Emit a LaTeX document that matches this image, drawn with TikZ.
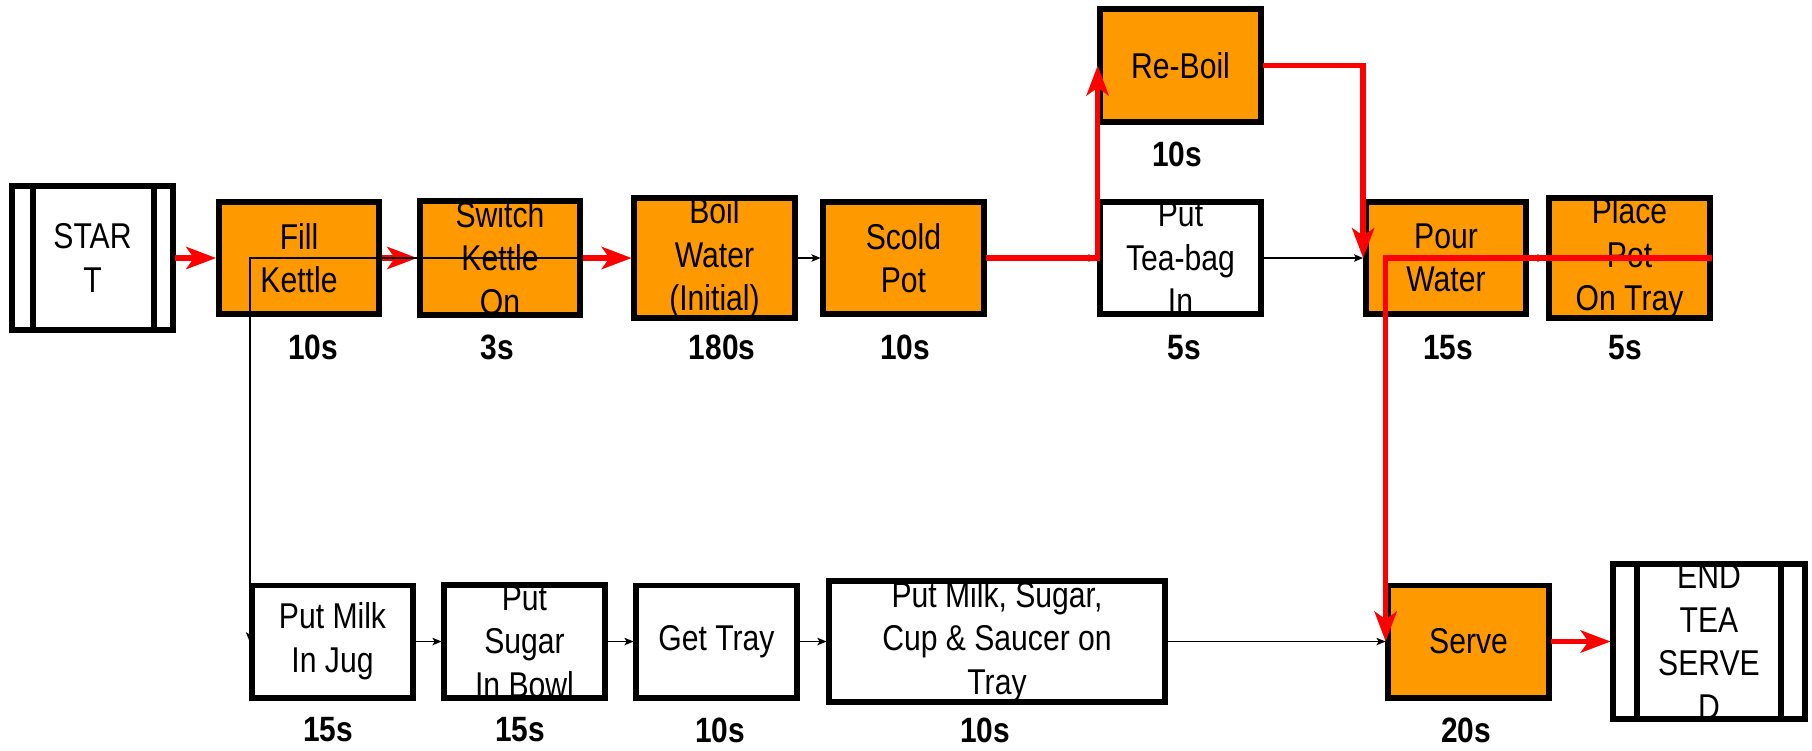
\documentclass[tikz,border=0pt]{standalone}
\usepackage{fontspec}
\setmainfont[FakeStretch=0.84]{Liberation Sans}
\newfontfamily\durfont[FakeStretch=0.85]{Liberation Sans}
\usetikzlibrary{arrows.meta}
\definecolor{steporange}{RGB}{255,153,0}
\definecolor{critred}{RGB}{255,0,0}
\begin{document}
\begin{tikzpicture}[x=0.01cm,y=-0.01cm,
  box/.style={rectangle, inner sep=0pt, outer sep=0.8pt, minimum width=1.60cm, minimum height=1.12cm, align=center, font=\fontsize{10.2}{12.4}\selectfont},
  orangebox/.style={box, fill=steporange},
  whitebox/.style={box, fill=white},
  border/.style={draw=black, line width=1.7pt},
  dur/.style={inner sep=0pt, font=\durfont\bfseries\fontsize{10}{12}\selectfont},
  crit/.style={draw=critred, line width=1.55pt, -{Stealth[length=8.5pt,width=6.3pt,inset=2.2pt]}},
  flow/.style={draw=black, line width=0.5pt, -{Stealth[length=2.6pt,width=2.1pt,inset=0.6pt]}},
]
\useasboundingbox (0,0) rectangle (1812,750);

% boxes (fill and text)
\node[whitebox, minimum height=1.44cm] (start) at (92.5,258) {STAR\\T};
\node[orangebox] (fill) at (299,258) {Fill\\Kettle};
\node[orangebox] (switch) at (500,258) {Switch\\Kettle\\On};
\node[orangebox] (boil) at (714.5,258) {Boil\\Water\\(Initial)};
\node[orangebox] (scold) at (903.5,258) {Scold\\Pot};
\node[orangebox] (reboil) at (1180.5,65.5) {Re-Boil};
\node[whitebox] (teabag) at (1180.5,258) {Put\\Tea-bag\\In};
\node[orangebox] (pour) at (1446,258) {Pour\\Water};
\node[orangebox] (place) at (1629.5,258) {Place\\Pot\\On Tray};
\node[whitebox] (milk) at (332.5,641.5) {Put Milk\\In Jug};
\node[whitebox] (sugar) at (524.5,641.5) {Put\\Sugar\\In Bowl};
\node[whitebox] (tray) at (716.5,641.5) {Get Tray};
\node[whitebox, minimum width=3.35cm] (load) at (997,641.5) {Put Milk, Sugar,\\Cup \& Saucer on\\Tray};
\node[orangebox] (serve) at (1468.5,641.5) {Serve};
\node[whitebox, minimum width=1.91cm, minimum height=1.43cm] (end) at (1709,641.5) {END\\TEA\\SERVE\\D};

% borders drawn over the text
\foreach \n in {start,fill,switch,boil,scold,reboil,teabag,pour,place,milk,sugar,tray,load,serve,end}
  \draw[border] ([shift={(0.8pt,-0.8pt)}]\n.north west) rectangle ([shift={(-0.8pt,0.8pt)}]\n.south east);
\draw[border] ([xshift=0.233cm]start.north west) -- ([xshift=0.233cm]start.south west);
\draw[border] ([xshift=-0.217cm]start.north east) -- ([xshift=-0.217cm]start.south east);
\draw[border] ([xshift=0.26cm]end.north west) -- ([xshift=0.26cm]end.south west);
\draw[border] ([xshift=-0.26cm]end.north east) -- ([xshift=-0.26cm]end.south east);

% durations
\node[dur] (dfill) at (313,347.5) {10s};
\node[dur] (dswitch) at (497,347.5) {3s};
\node[dur] (dboil) at (722,347.5) {180s};
\node[dur] (dscold) at (905,347.5) {10s};
\node[dur] (dreboil) at (1177,154) {10s};
\node[dur] (dteabag) at (1184,347.5) {5s};
\node[dur] (dpour) at (1448,347.5) {15s};
\node[dur] (dplace) at (1625,347.5) {5s};
\node[dur] (dmilk) at (328,730) {15s};
\node[dur] (dsugar) at (520,730) {15s};
\node[dur] (dtray) at (720,730) {10s};
\node[dur] (dload) at (985,730) {10s};
\node[dur] (dserve) at (1466,730) {20s};

% ordinary flow (under the critical path)
\draw[flow] (boil.east) -- (scold.west);
\draw[flow] (scold.east) -- (teabag.west);
\draw[flow] (teabag.east) -- (pour.west);
\draw[flow] (pour.east) -- (place.west);
\draw[flow] (milk.east) -- (sugar.west);
\draw[flow] (sugar.east) -- (tray.west);
\draw[flow] (tray.east) -- (load.west);
\draw[flow] (load.east) -- (serve.west);

% critical path
\draw[crit] (start.east) -- (fill.west);
\draw[crit] (fill.east) -- (switch.west);
\draw[crit] (switch.east) -- (boil.west);
\draw[crit] (scold.east) -| (reboil.west);
\draw[crit] (reboil.east) -| (pour.west);
\draw[crit] (place.east) -| (serve.west);
\draw[crit] (serve.east) -- (end.west);

% branch to the milk row (drawn on top)
\draw[flow] (switch.east) -| (milk.west);
\end{tikzpicture}
\end{document}
